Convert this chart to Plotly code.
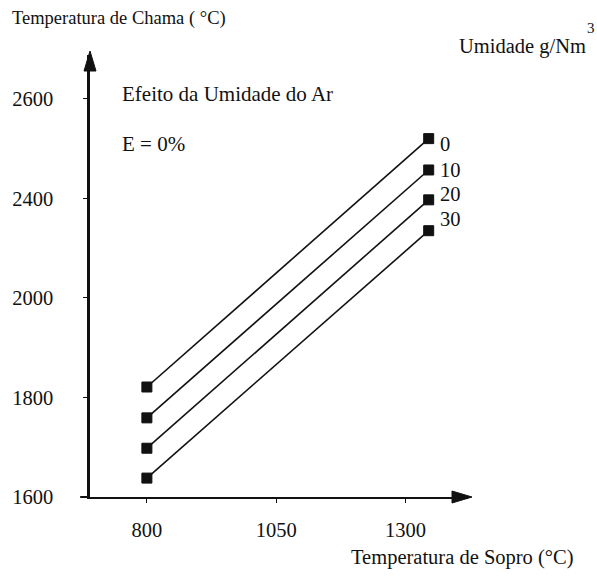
import plotly.graph_objects as go

# ---- data ----
humidity = ["0", "10", "20", "30"]              # g/Nm3
blast_temp = [800, 1345]                         # Temperatura de Sopro (°C)
flame_0 = [1821, 2320]
flame_10 = [1759, 2257]
flame_20 = [1698, 2197]
flame_30 = [1638, 2135]
series = [flame_0, flame_10, flame_20, flame_30]

x_ticks = [800, 1050, 1300]
x_ticktext = ["800", "1050", "1300"]
y_ticks = [1600, 1800, 2000, 2200, 2400]
y_ticktext = ["1600", "1800", "2000", "2400", "2600"]   # as printed in the original

# ---- styles ----
FONT = "Liberation Serif, Times New Roman, serif"
FS = 20.5
INK = "#111111"
label_yshift = [-5, 0, 6, 12]

fig = go.Figure()
for name, ys in zip(humidity, series):
    fig.add_trace(go.Scatter(
        x=blast_temp, y=ys, mode="lines+markers", name=name,
        line=dict(color=INK, width=1.6),
        marker=dict(symbol="square", size=10, color=INK,
                    line=dict(color=INK, width=1)),
        showlegend=False, hoverinfo="skip"))

annotations = []
for name, ys, dy in zip(humidity, series, label_yshift):
    annotations.append(dict(x=blast_temp[-1], y=ys[-1], text=name, showarrow=False,
                            xanchor="left", yanchor="middle", xshift=9, yshift=dy,
                            font=dict(family=FONT, size=FS, color=INK)))

W, H = 597, 577
L, R, T, B = 82, 597 - 468, 55, 577 - 497


def txt(px, py, text, size=FS, xanchor="left", yanchor="middle"):
    return dict(xref="paper", yref="paper",
                x=(px - L) / (W - L - R), y=1 - (py - T) / (H - T - B),
                xanchor=xanchor, yanchor=yanchor, text=text, showarrow=False,
                borderpad=0,
                font=dict(family=FONT, size=size, color=INK))


annotations += [
    txt(114, 94, "Efeito da Umidade do Ar", 21),
    txt(114, 144, "E = 0%", 21),
    txt(590, 46, "Umidade g/Nm", 20.5, xanchor="right"),
    txt(588, 28, "3", 15),
    txt(348, 557, "Temperatura de Sopro (°C)"),
]

# axis arrowheads as pixel-sized path shapes
shapes = [
    dict(type="line", xref="paper", yref="paper", x0=-0.026, x1=0, y0=0, y1=0,
         line=dict(color=INK, width=2)),
    dict(type="path", xref="paper", yref="paper", xsizemode="pixel", ysizemode="pixel",
         xanchor=0, yanchor=1, path="M -6,-16 L 0,4 L 6,-16 Z",
         fillcolor=INK, line=dict(color=INK, width=1)),
    dict(type="path", xref="paper", yref="paper", xsizemode="pixel", ysizemode="pixel",
         xanchor=1, yanchor=0, path="M -16,-6 L 4,0 L -16,6 Z",
         fillcolor=INK, line=dict(color=INK, width=1)),
]

fig.update_layout(
    width=W, height=H,
    margin=dict(l=L, r=R, t=T, b=B),
    paper_bgcolor="white", plot_bgcolor="white",
    font=dict(family=FONT, size=FS, color=INK),
    title=dict(text="Temperatura de Chama ( °C)", x=12 / W, xref="container",
               xanchor="left", y=1 - 18 / H, yref="container", yanchor="middle",
               font=dict(family=FONT, size=18.5, color=INK)),
    annotations=annotations,
    shapes=shapes,
)
fig.update_xaxes(range=[690, 1421], tickvals=x_ticks, ticktext=x_ticktext,
                 showgrid=False, zeroline=False, showline=True, linecolor=INK,
                 linewidth=2, ticks="outside", ticklen=4, tickcolor=INK,
                 ticklabelstandoff=9, tickfont=dict(family=FONT, size=FS, color=INK))
fig.update_yaxes(range=[1600, 2488], tickvals=y_ticks, ticktext=y_ticktext,
                 showgrid=False, zeroline=False, showline=True, linecolor=INK,
                 linewidth=2.5, ticks="outside", ticklen=4, tickcolor=INK,
                 ticklabelstandoff=26, tickfont=dict(family=FONT, size=FS, color=INK))

fig.write_html("out.html")
